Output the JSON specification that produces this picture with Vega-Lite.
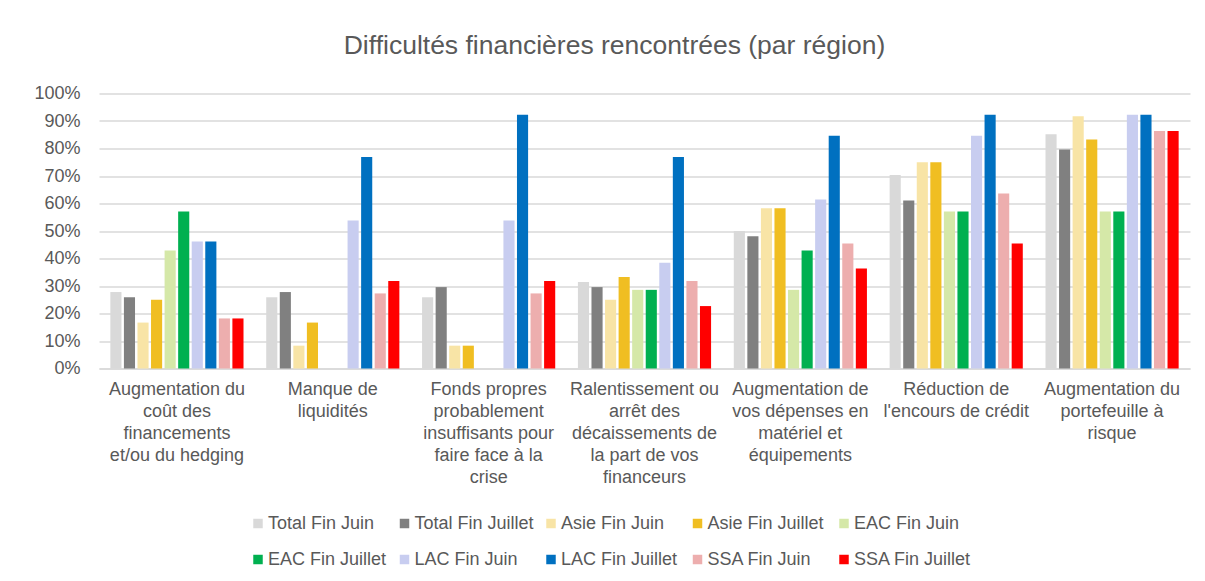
{
  "$schema": "https://vega.github.io/schema/vega-lite/v6.json",
  "width": 1091,
  "height": 275,
  "autosize": {"type": "none"},
  "padding": {"left": 99, "top": 93.5, "right": 15, "bottom": 212},
  "background": "white",
  "title": {
    "text": "Difficultés financières rencontrées (par région)",
    "font": "Liberation Sans",
    "fontSize": 26.5,
    "fontWeight": "normal",
    "color": "#595959",
    "anchor": "middle",
    "dx": -30,
    "offset": 25
  },
  "data": {
    "values": [
      {"cat": "Augmentation du|coût des|financements|et/ou du hedging", "series": "Total Fin Juin", "value": 0.278},
      {"cat": "Augmentation du|coût des|financements|et/ou du hedging", "series": "Total Fin Juillet", "value": 0.259},
      {"cat": "Augmentation du|coût des|financements|et/ou du hedging", "series": "Asie Fin Juin", "value": 0.167},
      {"cat": "Augmentation du|coût des|financements|et/ou du hedging", "series": "Asie Fin Juillet", "value": 0.25},
      {"cat": "Augmentation du|coût des|financements|et/ou du hedging", "series": "EAC Fin Juin", "value": 0.429},
      {"cat": "Augmentation du|coût des|financements|et/ou du hedging", "series": "EAC Fin Juillet", "value": 0.571},
      {"cat": "Augmentation du|coût des|financements|et/ou du hedging", "series": "LAC Fin Juin", "value": 0.462},
      {"cat": "Augmentation du|coût des|financements|et/ou du hedging", "series": "LAC Fin Juillet", "value": 0.462},
      {"cat": "Augmentation du|coût des|financements|et/ou du hedging", "series": "SSA Fin Juin", "value": 0.182},
      {"cat": "Augmentation du|coût des|financements|et/ou du hedging", "series": "SSA Fin Juillet", "value": 0.182},

      {"cat": "Manque de|liquidités", "series": "Total Fin Juin", "value": 0.259},
      {"cat": "Manque de|liquidités", "series": "Total Fin Juillet", "value": 0.278},
      {"cat": "Manque de|liquidités", "series": "Asie Fin Juin", "value": 0.083},
      {"cat": "Manque de|liquidités", "series": "Asie Fin Juillet", "value": 0.167},
      {"cat": "Manque de|liquidités", "series": "EAC Fin Juin", "value": 0},
      {"cat": "Manque de|liquidités", "series": "EAC Fin Juillet", "value": 0},
      {"cat": "Manque de|liquidités", "series": "LAC Fin Juin", "value": 0.538},
      {"cat": "Manque de|liquidités", "series": "LAC Fin Juillet", "value": 0.769},
      {"cat": "Manque de|liquidités", "series": "SSA Fin Juin", "value": 0.273},
      {"cat": "Manque de|liquidités", "series": "SSA Fin Juillet", "value": 0.318},

      {"cat": "Fonds propres|probablement|insuffisants pour|faire face à la|crise", "series": "Total Fin Juin", "value": 0.259},
      {"cat": "Fonds propres|probablement|insuffisants pour|faire face à la|crise", "series": "Total Fin Juillet", "value": 0.296},
      {"cat": "Fonds propres|probablement|insuffisants pour|faire face à la|crise", "series": "Asie Fin Juin", "value": 0.083},
      {"cat": "Fonds propres|probablement|insuffisants pour|faire face à la|crise", "series": "Asie Fin Juillet", "value": 0.083},
      {"cat": "Fonds propres|probablement|insuffisants pour|faire face à la|crise", "series": "EAC Fin Juin", "value": 0},
      {"cat": "Fonds propres|probablement|insuffisants pour|faire face à la|crise", "series": "EAC Fin Juillet", "value": 0},
      {"cat": "Fonds propres|probablement|insuffisants pour|faire face à la|crise", "series": "LAC Fin Juin", "value": 0.538},
      {"cat": "Fonds propres|probablement|insuffisants pour|faire face à la|crise", "series": "LAC Fin Juillet", "value": 0.923},
      {"cat": "Fonds propres|probablement|insuffisants pour|faire face à la|crise", "series": "SSA Fin Juin", "value": 0.273},
      {"cat": "Fonds propres|probablement|insuffisants pour|faire face à la|crise", "series": "SSA Fin Juillet", "value": 0.318},

      {"cat": "Ralentissement ou|arrêt des|décaissements de|la part de vos|financeurs", "series": "Total Fin Juin", "value": 0.315},
      {"cat": "Ralentissement ou|arrêt des|décaissements de|la part de vos|financeurs", "series": "Total Fin Juillet", "value": 0.296},
      {"cat": "Ralentissement ou|arrêt des|décaissements de|la part de vos|financeurs", "series": "Asie Fin Juin", "value": 0.25},
      {"cat": "Ralentissement ou|arrêt des|décaissements de|la part de vos|financeurs", "series": "Asie Fin Juillet", "value": 0.333},
      {"cat": "Ralentissement ou|arrêt des|décaissements de|la part de vos|financeurs", "series": "EAC Fin Juin", "value": 0.286},
      {"cat": "Ralentissement ou|arrêt des|décaissements de|la part de vos|financeurs", "series": "EAC Fin Juillet", "value": 0.286},
      {"cat": "Ralentissement ou|arrêt des|décaissements de|la part de vos|financeurs", "series": "LAC Fin Juin", "value": 0.385},
      {"cat": "Ralentissement ou|arrêt des|décaissements de|la part de vos|financeurs", "series": "LAC Fin Juillet", "value": 0.769},
      {"cat": "Ralentissement ou|arrêt des|décaissements de|la part de vos|financeurs", "series": "SSA Fin Juin", "value": 0.318},
      {"cat": "Ralentissement ou|arrêt des|décaissements de|la part de vos|financeurs", "series": "SSA Fin Juillet", "value": 0.227},

      {"cat": "Augmentation de|vos dépenses en|matériel et|équipements", "series": "Total Fin Juin", "value": 0.5},
      {"cat": "Augmentation de|vos dépenses en|matériel et|équipements", "series": "Total Fin Juillet", "value": 0.481},
      {"cat": "Augmentation de|vos dépenses en|matériel et|équipements", "series": "Asie Fin Juin", "value": 0.583},
      {"cat": "Augmentation de|vos dépenses en|matériel et|équipements", "series": "Asie Fin Juillet", "value": 0.583},
      {"cat": "Augmentation de|vos dépenses en|matériel et|équipements", "series": "EAC Fin Juin", "value": 0.286},
      {"cat": "Augmentation de|vos dépenses en|matériel et|équipements", "series": "EAC Fin Juillet", "value": 0.429},
      {"cat": "Augmentation de|vos dépenses en|matériel et|équipements", "series": "LAC Fin Juin", "value": 0.615},
      {"cat": "Augmentation de|vos dépenses en|matériel et|équipements", "series": "LAC Fin Juillet", "value": 0.846},
      {"cat": "Augmentation de|vos dépenses en|matériel et|équipements", "series": "SSA Fin Juin", "value": 0.455},
      {"cat": "Augmentation de|vos dépenses en|matériel et|équipements", "series": "SSA Fin Juillet", "value": 0.364},

      {"cat": "Réduction de|l'encours de crédit", "series": "Total Fin Juin", "value": 0.704},
      {"cat": "Réduction de|l'encours de crédit", "series": "Total Fin Juillet", "value": 0.611},
      {"cat": "Réduction de|l'encours de crédit", "series": "Asie Fin Juin", "value": 0.75},
      {"cat": "Réduction de|l'encours de crédit", "series": "Asie Fin Juillet", "value": 0.75},
      {"cat": "Réduction de|l'encours de crédit", "series": "EAC Fin Juin", "value": 0.571},
      {"cat": "Réduction de|l'encours de crédit", "series": "EAC Fin Juillet", "value": 0.571},
      {"cat": "Réduction de|l'encours de crédit", "series": "LAC Fin Juin", "value": 0.846},
      {"cat": "Réduction de|l'encours de crédit", "series": "LAC Fin Juillet", "value": 0.923},
      {"cat": "Réduction de|l'encours de crédit", "series": "SSA Fin Juin", "value": 0.636},
      {"cat": "Réduction de|l'encours de crédit", "series": "SSA Fin Juillet", "value": 0.455},

      {"cat": "Augmentation du|portefeuille à|risque", "series": "Total Fin Juin", "value": 0.852},
      {"cat": "Augmentation du|portefeuille à|risque", "series": "Total Fin Juillet", "value": 0.796},
      {"cat": "Augmentation du|portefeuille à|risque", "series": "Asie Fin Juin", "value": 0.917},
      {"cat": "Augmentation du|portefeuille à|risque", "series": "Asie Fin Juillet", "value": 0.833},
      {"cat": "Augmentation du|portefeuille à|risque", "series": "EAC Fin Juin", "value": 0.571},
      {"cat": "Augmentation du|portefeuille à|risque", "series": "EAC Fin Juillet", "value": 0.571},
      {"cat": "Augmentation du|portefeuille à|risque", "series": "LAC Fin Juin", "value": 0.923},
      {"cat": "Augmentation du|portefeuille à|risque", "series": "LAC Fin Juillet", "value": 0.923},
      {"cat": "Augmentation du|portefeuille à|risque", "series": "SSA Fin Juin", "value": 0.864},
      {"cat": "Augmentation du|portefeuille à|risque", "series": "SSA Fin Juillet", "value": 0.864}
    ]
  },
  "mark": {"type": "bar"},
  "encoding": {
    "x": {
      "field": "cat",
      "type": "nominal",
      "sort": null,
      "title": null,
      "scale": {"paddingInner": 0.13, "paddingOuter": 0.065},
      "axis": {
        "labelExpr": "split(datum.label, '|')",
        "labelAngle": 0,
        "labelFont": "Liberation Sans",
        "labelFontSize": 18,
        "labelColor": "#595959",
        "labelLineHeight": 22,
        "labelPadding": 12,
        "labelLimit": 0,
        "ticks": false,
        "domainColor": "#D9D9D9",
        "domainWidth": 1.5
      }
    },
    "xOffset": {
      "field": "series",
      "type": "nominal",
      "sort": null,
      "scale": {"paddingInner": 0.18, "paddingOuter": 0.09}
    },
    "y": {
      "field": "value",
      "type": "quantitative",
      "title": null,
      "scale": {"domain": [0, 1], "nice": false},
      "axis": {
        "values": [0, 0.1, 0.2, 0.3, 0.4, 0.5, 0.6, 0.7, 0.8, 0.9, 1],
        "format": ".0%",
        "labelFont": "Liberation Sans",
        "labelFontSize": 18,
        "labelColor": "#595959",
        "labelPadding": 19,
        "ticks": false,
        "domain": false,
        "gridColor": "#D9D9D9",
        "gridWidth": 1.5
      }
    },
    "color": {
      "field": "series",
      "type": "nominal",
      "sort": null,
      "title": null,
      "scale": {
        "domain": ["Total Fin Juin", "Total Fin Juillet", "Asie Fin Juin", "Asie Fin Juillet", "EAC Fin Juin", "EAC Fin Juillet", "LAC Fin Juin", "LAC Fin Juillet", "SSA Fin Juin", "SSA Fin Juillet"],
        "range": ["#D9D9D9", "#808080", "#F8E4A6", "#F0BE22", "#D5E8A8", "#00B050", "#C8CDF0", "#0070C0", "#EDAEAE", "#FF0000"]
      },
      "legend": {
        "orient": "none",
        "direction": "horizontal",
        "columns": 5,
        "gridAlign": "all",
        "legendX": 150,
        "legendY": 421,
        "symbolType": "square",
        "symbolSize": 90,
        "symbolStrokeWidth": 0,
        "labelFont": "Liberation Sans",
        "labelFontSize": 18,
        "labelColor": "#595959",
        "labelOffset": 1,
        "labelLimit": 0,
        "columnPadding": 7.5,
        "rowPadding": 18,
        "padding": 0
      }
    }
  },
  "config": {
    "view": {"stroke": null}
  }
}
